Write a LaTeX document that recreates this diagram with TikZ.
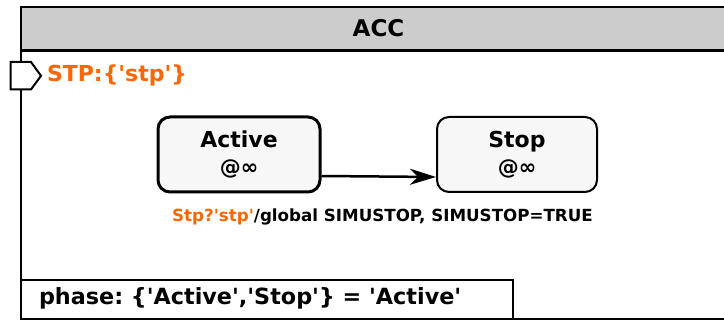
\documentclass[tikz,border=0pt]{standalone}
\usepackage{fontspec}
\setmainfont{DejaVu Sans}[Ligatures=TeXOff]
\newfontfamily\fplain{DejaVu Sans}[Ligatures=TeXOff]
\usetikzlibrary{arrows.meta}
\definecolor{hdr}{HTML}{CCCCCC}
\definecolor{stfill}{HTML}{F7F7F7}
\definecolor{org}{HTML}{FF6600}
\frenchspacing
\tikzset{
  statebox/.style={draw, rounded corners=12pt, fill=stfill, minimum width=162pt, minimum height=75pt, inner sep=0pt},
  txt/.style={inner sep=0pt, outer sep=0pt},
}
\begin{document}
\begin{tikzpicture}[x=1pt,y=-1pt]
\useasboundingbox (0,0) rectangle (724,320);
\clip (0,0) rectangle (724,320);
% outer box and header
\draw[line width=2pt] (21,7) rectangle (745,319);
\filldraw[fill=hdr, line width=2.5pt] (21,7) rectangle (745,50.5);
\node[txt, anchor=base] (title) at (378.5,37) {\fplain\bfseries\fontsize{23}{25}\selectfont ACC};
% port
\draw[line width=2pt, fill=white] (10.5,62) -- (31,62) -- (41,75.8) -- (31,89.5) -- (10.5,89.5) -- cycle;
\node[txt, anchor=base west] (port) at (47,81.7) {\fplain\bfseries\fontsize{22}{24}\selectfont\color{org}STP:\{'stp'\}};
% states
\node[statebox, line width=3pt] (active) at (239,154.5) {};
\node[statebox, line width=2pt, minimum width=160pt] (stop) at (517,154.5) {};
\node[txt, anchor=base] (activet) at (239,147.5) {\fplain\bfseries\fontsize{22}{24}\selectfont Active};
\node[txt, anchor=base] (activea) at (239,174.5) {\fplain\bfseries\fontsize{21}{23}\selectfont @∞};
\node[txt, anchor=base] (stopt) at (517,147.5) {\fplain\bfseries\fontsize{22}{24}\selectfont Stop};
\node[txt, anchor=base] (stopa) at (517,174.5) {\fplain\bfseries\fontsize{21}{23}\selectfont @∞};
% transition
\draw[line width=2.5pt, -{Stealth[length=26pt, width=16pt, inset=8pt]}] ([yshift=-21.5pt]active.east) -- ([yshift=-22.5pt]stop.west);
\node[txt, anchor=base] (lbl) at (382.5,221.3) {\fplain\bfseries\fontsize{16.7}{18}\selectfont\textcolor{org}{Stp?'stp'}/global SIMUSTOP, SIMUSTOP=TRUE};
% variable box
\draw[line width=2pt] (21,280) rectangle (512.5,319);
\node[txt, anchor=base west] (phase) at (39,305) {\fplain\bfseries\fontsize{22.3}{24}\selectfont phase: \{'Active','Stop'\} = 'Active'};
\end{tikzpicture}
\end{document}
